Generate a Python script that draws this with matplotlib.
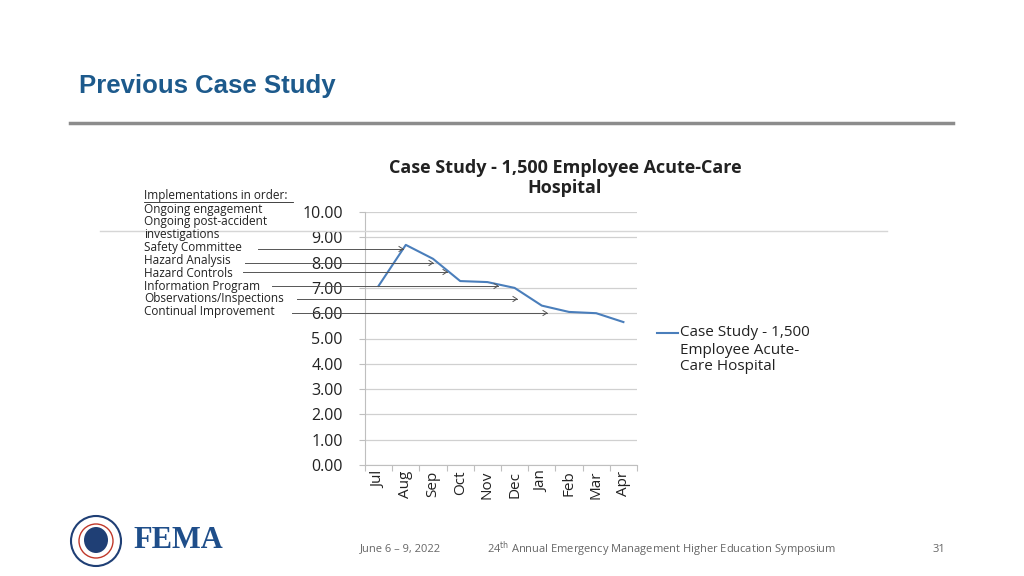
import matplotlib.pyplot as plt
from matplotlib.patches import Ellipse

# data
months = ['Jul', 'Aug', 'Sep', 'Oct', 'Nov', 'Dec', 'Jan', 'Feb', 'Mar', 'Apr']
values = [7.08, 8.70, 8.15, 7.27, 7.23, 7.00, 6.30, 6.05, 6.00, 5.65]
yticks = [0, 1, 2, 3, 4, 5, 6, 7, 8, 9, 10]

notes_header = 'Implementations in order:'
notes = ['Ongoing engagement', 'Ongoing post-accident', 'investigations',
         'Safety Committee', 'Hazard Analysis', 'Hazard Controls',
         'Information Program', 'Observations/Inspections', 'Continual Improvement']

series_name = ['Case Study - 1,500', 'Employee Acute-', 'Care Hospital']
chart_title = 'Case Study - 1,500 Employee Acute-Care\nHospital'

W, H = 1024, 576
fig = plt.figure(figsize=(W / 100, H / 100), dpi=100)
fig.patch.set_facecolor('white')

def fx(x):
    return x / W

def fy(y):
    return 1 - y / H

font = ['Open Sans', 'DejaVu Sans']
ink = '#222222'

# slide header
fig.text(fx(79), fy(86), 'Previous Case Study', color='#1d5a8c', fontsize=18.5,
         fontweight='bold', family=['Liberation Sans Narrow', 'Liberation Sans', 'DejaVu Sans'],
         va='center', ha='left')
fig.add_artist(plt.Line2D([fx(70), fx(953)], [fy(123), fy(123)], color='#8c8c8c', lw=2.5))
# faint stray line from the slide
fig.add_artist(plt.Line2D([fx(100), fx(887)], [fy(231), fy(231)], color='#d6d6d6', lw=1))

# chart
ax = fig.add_axes([fx(365), fy(465), fx(637) - fx(365), fy(212) - fy(465)])
x = list(range(len(months)))
ax.plot(x, values, color='#4a7ebb', lw=1.5)
ax.set_xlim(-0.5, len(months) - 0.5)
ax.set_ylim(0, 10)
ax.set_yticks(yticks)
ax.set_yticklabels(['%.2f' % v for v in yticks], fontsize=11.5, family=font, color=ink)
ax.yaxis.grid(True, color='#d0d0d0', lw=0.9)
ax.set_axisbelow(True)
ax.set_xticks([i - 0.5 for i in range(len(months) + 1)])
ax.set_xticklabels([])
ax.set_xticks(x, minor=True)
ax.set_xticklabels(months, minor=True, rotation=90, fontsize=11, family=font, color=ink)
ax.tick_params(axis='x', which='minor', length=0, pad=4)
ax.tick_params(axis='x', which='major', length=4, color='#bfbfbf', direction='out')
ax.tick_params(axis='y', length=4, color='#bfbfbf', pad=12)
for s in ['top', 'right']:
    ax.spines[s].set_visible(False)
for s in ['left', 'bottom']:
    ax.spines[s].set_color('#bfbfbf')

fig.text(fx(565), fy(178), chart_title, ha='center', va='center', fontsize=13,
         fontweight='bold', family=font, color=ink, linespacing=1.2)

# legend drawn by hand so the key sits on the first line
fig.add_artist(plt.Line2D([fx(657), fx(678)], [fy(333), fy(333)], color='#4a7ebb', lw=1.5))
for i, t in enumerate(series_name):
    fig.text(fx(680), fy(333 + 17 * i), t, fontsize=11, family=font, color=ink,
             va='center', ha='left')

# implementation notes
fig.text(fx(144), fy(196), notes_header, fontsize=8.5, family=font, color=ink,
         va='center', ha='left')
fig.add_artist(plt.Line2D([fx(144), fx(293)], [fy(201.5), fy(201.5)], color=ink, lw=0.6))
for i, n in enumerate(notes):
    fig.text(fx(144), fy(209 + 12.85 * i), n, fontsize=8.5, family=font,
             color=ink, va='center', ha='left')

# arrows from the notes to the chart (pixel positions)
arrows = [(258, 403, 249), (245, 433, 263), (243, 447, 272),
          (272, 498, 286), (297, 517, 299), (292, 547, 313)]
for x0, x1, y in arrows:
    fig.add_artist(plt.Line2D([fx(x0), fx(x1)], [fy(y), fy(y)], color='#555555', lw=0.7))
    fig.add_artist(plt.Line2D([fx(x1 - 4), fx(x1), fx(x1 - 4)],
                              [fy(y - 2.5), fy(y), fy(y + 2.5)], color='#555555', lw=0.7))

# footer
fig.add_artist(Ellipse((fx(96), fy(541)), fx(50), 50 / H, transform=fig.transFigure,
                       facecolor='white', edgecolor='#1f3f75', lw=1.5))
fig.add_artist(Ellipse((fx(96), fy(541)), fx(34), 34 / H, transform=fig.transFigure,
                       facecolor='white', edgecolor='#c0392b', lw=1))
fig.add_artist(Ellipse((fx(96), fy(540)), fx(24), 26 / H, transform=fig.transFigure,
                       facecolor='#1f3f75', edgecolor='none'))
fig.text(fx(133), fy(541), 'FEMA', fontsize=22, fontweight='bold',
         family=['Liberation Serif', 'DejaVu Serif'],
         color='#1f4e8a', va='center', ha='left')
fig.text(fx(360), fy(549), 'June 6 \u2013 9, 2022', fontsize=8, family=font,
         color='#666666', va='center', ha='left')
fig.text(fx(487), fy(549), r'24$^{\rm th}$ Annual Emergency Management Higher Education Symposium',
         fontsize=8, family=font, color='#666666', va='center', ha='left')
fig.text(fx(945), fy(549), '31', fontsize=8, family=font, color='#666666',
         va='center', ha='right')

fig.savefig('out.png', dpi=100)
